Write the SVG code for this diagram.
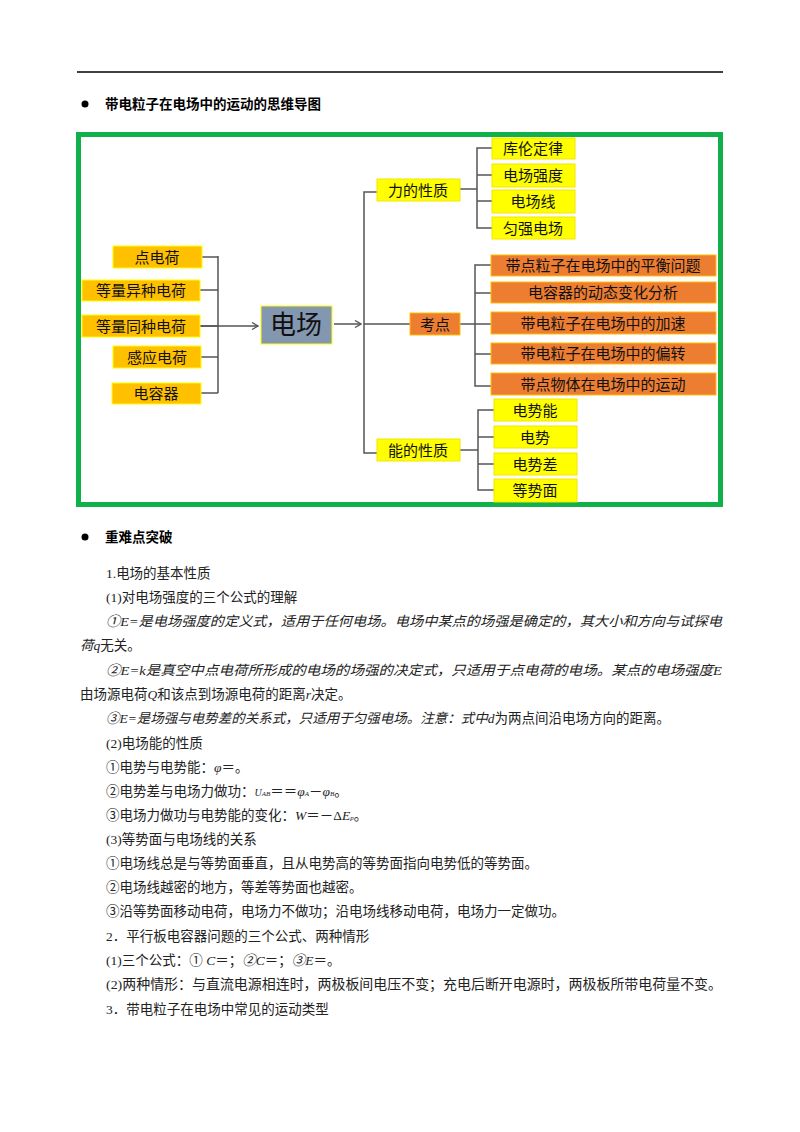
<svg xmlns="http://www.w3.org/2000/svg" width="800" height="1132" viewBox="0 0 800 1132">
<style>
.y{fill:#ffff00;stroke:#f2e600;stroke-width:1}
.o{fill:#ffc000;stroke:#ffff00;stroke-width:1}
.r{fill:#ed7d31;stroke:#ffc000;stroke-width:1}
.t{font-family:"Liberation Sans","Noto Sans CJK SC",sans-serif;font-size:15px;fill:#111;text-anchor:middle;dominant-baseline:central}
.c{fill:none;stroke:#555;stroke-width:1.5}
.p{font-family:"Liberation Serif","Noto Sans CJK SC",serif;font-size:13.5px;fill:#222}
.i{font-style:italic}
.h{font-family:"Liberation Sans","Noto Sans CJK SC",sans-serif;font-size:13.5px;font-weight:bold;fill:#000}
</style>
<defs><marker id="a" markerWidth="8" markerHeight="8" refX="7" refY="4" orient="auto" markerUnits="userSpaceOnUse"><path d="M1,0.5 L7,4 L1,7.5" fill="none" stroke="#555" stroke-width="1.3"/></marker></defs>
<rect width="800" height="1132" fill="#fff"/>
<line x1="77" y1="72" x2="723" y2="72" stroke="#000" stroke-width="1.5"/>
<circle cx="85" cy="104" r="3.5" fill="#000"/>
<text class="h" x="105" y="109">带电粒子在电场中的运动的思维导图</text>
<rect x="78.5" y="134.5" width="642" height="370" fill="none" stroke="#10b04a" stroke-width="5"/>
<g id="connectors">
<path class="c" d="M202,257H218M200,290H218M200,326H218M201,357H218M201,393H218M218,256V393"/>
<line class="c" x1="200" y1="326" x2="258" y2="326" marker-end="url(#a)"/>
<line class="c" x1="334" y1="324" x2="361" y2="324" marker-end="url(#a)"/>
<path class="c" d="M377,192H364V453H377M364,324H410"/>
<path class="c" d="M460,189H477M492,148H477V228H492M477,175H492M477,201H492"/>
<path class="c" d="M460,324H491M491,265H475V386H491M475,293H491M475,354H491"/>
<path class="c" d="M460,450H478M494,410H478V490H494M478,437H494M478,464H494"/>
</g>
<g id="n1"><rect class="o" x="113" y="246" width="89" height="22"/><text class="t" x="157" y="257">点电荷</text></g>
<g id="n2"><rect class="o" x="82" y="280" width="118" height="21"/><text class="t" x="141" y="290">等量异种电荷</text></g>
<g id="n3"><rect class="o" x="82" y="315" width="118" height="22"/><text class="t" x="141" y="326">等量同种电荷</text></g>
<g id="n4"><rect class="o" x="113" y="346" width="88" height="22"/><text class="t" x="157" y="357">感应电荷</text></g>
<g id="n5"><rect class="o" x="112" y="383" width="89" height="21"/><text class="t" x="156" y="393">电容器</text></g>
<g id="center"><rect x="261" y="306" width="71" height="38" fill="#8497b0" stroke="#ffff00" stroke-width="1"/><text class="t" x="296" y="325" style="font-size:26px">电场</text></g>
<g id="f"><rect class="y" x="377" y="179" width="83" height="22"/><text class="t" x="418" y="190">力的性质</text></g>
<g id="k"><rect class="r" x="410" y="313" width="50" height="22"/><text class="t" x="435" y="324">考点</text></g>
<g id="e"><rect class="y" x="377" y="439" width="83" height="22"/><text class="t" x="418" y="450">能的性质</text></g>
<g id="f1"><rect class="y" x="492" y="138" width="83" height="21"/><text class="t" x="533" y="148">库伦定律</text></g>
<g id="f2"><rect class="y" x="492" y="164" width="83" height="23"/><text class="t" x="533" y="175">电场强度</text></g>
<g id="f3"><rect class="y" x="492" y="190" width="83" height="23"/><text class="t" x="533" y="201">电场线</text></g>
<g id="f4"><rect class="y" x="492" y="217" width="83" height="22"/><text class="t" x="533" y="228">匀强电场</text></g>
<g id="k1"><rect class="r" x="491" y="255" width="225" height="21"/><text class="t" x="603" y="265">带点粒子在电场中的平衡问题</text></g>
<g id="k2"><rect class="r" x="491" y="282" width="225" height="21"/><text class="t" x="603" y="292">电容器的动态变化分析</text></g>
<g id="k3"><rect class="r" x="491" y="312" width="225" height="22"/><text class="t" x="603" y="323">带电粒子在电场中的加速</text></g>
<g id="k4"><rect class="r" x="491" y="343" width="225" height="21"/><text class="t" x="603" y="353">带电粒子在电场中的偏转</text></g>
<g id="k5"><rect class="r" x="491" y="373" width="225" height="22"/><text class="t" x="603" y="384">带点物体在电场中的运动</text></g>
<g id="e1"><rect class="y" x="494" y="399" width="83" height="22"/><text class="t" x="535" y="410">电势能</text></g>
<g id="e2"><rect class="y" x="494" y="426" width="83" height="22"/><text class="t" x="535" y="437">电势</text></g>
<g id="e3"><rect class="y" x="494" y="453" width="83" height="22"/><text class="t" x="535" y="464">电势差</text></g>
<g id="e4"><rect class="y" x="494" y="479" width="83" height="23"/><text class="t" x="535" y="490">等势面</text></g>
<circle cx="85" cy="537" r="3.5" fill="#000"/>
<text class="h" x="105" y="542">重难点突破</text>
<text class="p" x="106" y="578">1.电场的基本性质</text>
<text class="p" x="106" y="602">(1)对电场强度的三个公式的理解</text>
<text class="p i" x="106" y="626" textLength="616" lengthAdjust="spacingAndGlyphs">①E=是电场强度的定义式，适用于任何电场。电场中某点的场强是确定的，其大小和方向与试探电</text>
<text class="p" x="80" y="650"><tspan class="i">荷q</tspan>无关。</text>
<text class="p i" x="106" y="675" textLength="616" lengthAdjust="spacingAndGlyphs">②E=k是真空中点电荷所形成的电场的场强的决定式，只适用于点电荷的电场。某点的电场强度E</text>
<text class="p" x="80" y="699">由场源电荷<tspan class="i">Q</tspan>和该点到场源电荷的距离<tspan class="i">r</tspan>决定。</text>
<text class="p" x="106" y="723"><tspan class="i">③E=是场强与电势差的关系式，只适用于匀强电场。注意：式中d</tspan>为两点间沿电场方向的距离。</text>
<text class="p" x="106" y="748">(2)电场能的性质</text>
<text class="p" x="106" y="772">①电势与电势能：<tspan class="i">φ</tspan>＝。</text>
<text class="p" x="106" y="796">②电势差与电场力做功：<tspan class="i" font-size="10">U<tspan font-size="7">AB</tspan></tspan>＝＝<tspan class="i">φ<tspan font-size="7">A</tspan></tspan>－<tspan class="i">φ<tspan font-size="7">B</tspan></tspan>。</text>
<text class="p" x="106" y="820">③电场力做功与电势能的变化：<tspan class="i">W</tspan>＝－Δ<tspan class="i">E<tspan font-size="7">p</tspan></tspan>。</text>
<text class="p" x="106" y="844">(3)等势面与电场线的关系</text>
<text class="p" x="106" y="868">①电场线总是与等势面垂直，且从电势高的等势面指向电势低的等势面。</text>
<text class="p" x="106" y="892">②电场线越密的地方，等差等势面也越密。</text>
<text class="p" x="106" y="916">③沿等势面移动电荷，电场力不做功；沿电场线移动电荷，电场力一定做功。</text>
<text class="p" x="106" y="941">2．平行板电容器问题的三个公式、两种情形</text>
<text class="p" x="106" y="965">(1)三个公式：① <tspan class="i">C</tspan>＝；<tspan class="i">②C</tspan>＝；<tspan class="i">③E</tspan>＝。</text>
<text class="p" x="106" y="989" textLength="616" lengthAdjust="spacingAndGlyphs">(2)两种情形：与直流电源相连时，两极板间电压不变；充电后断开电源时，两极板所带电荷量不变。</text>
<text class="p" x="106" y="1014">3．带电粒子在电场中常见的运动类型</text>
</svg>
